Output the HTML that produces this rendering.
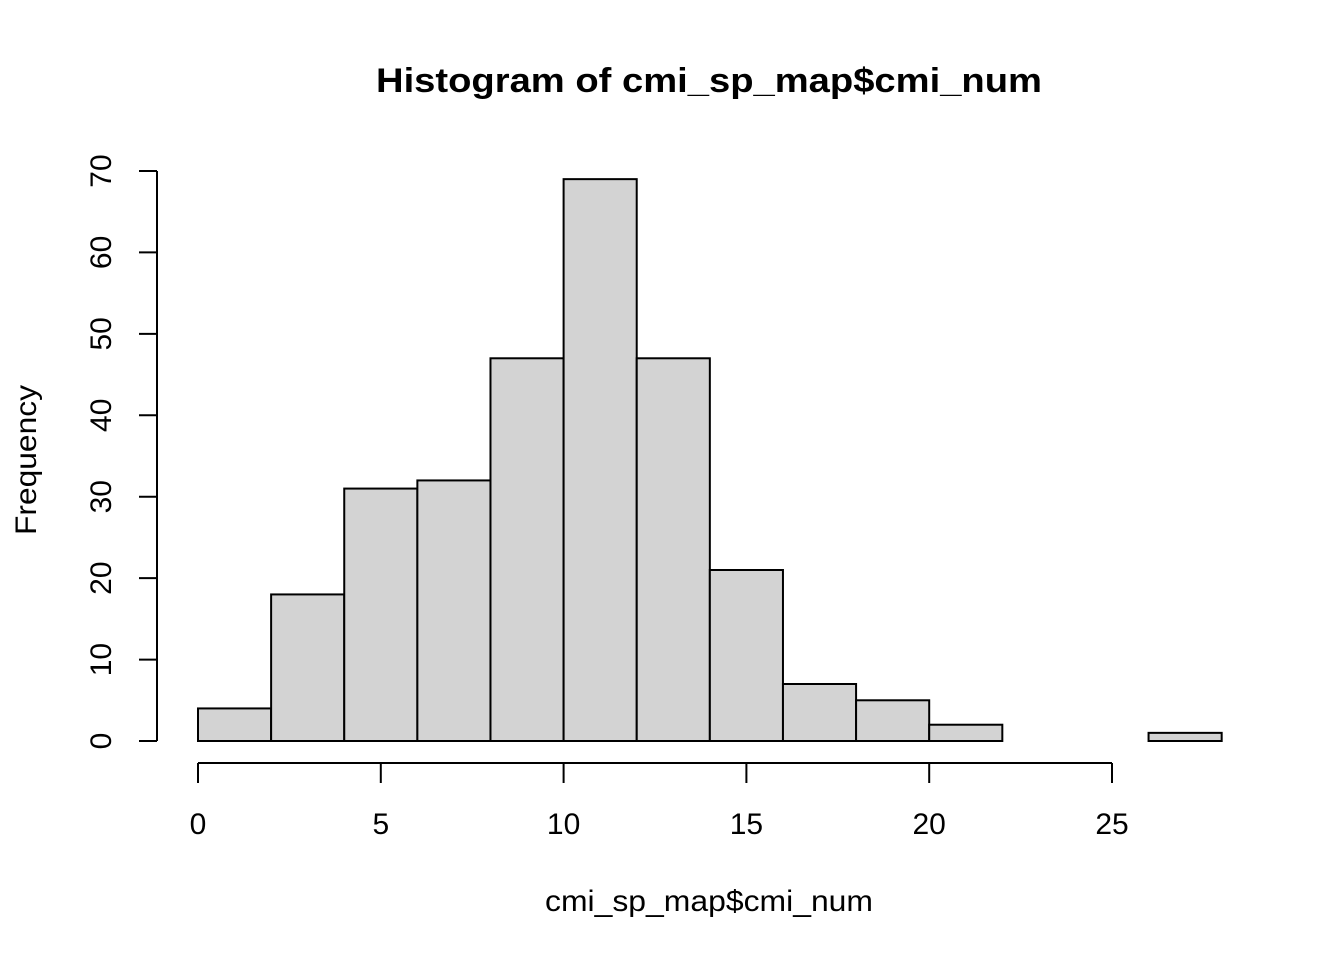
<!DOCTYPE html>
<html><head><meta charset="utf-8"><style>
body{margin:0;background:#fff}
svg{display:block;font-family:"Liberation Sans",Arial,sans-serif}
</style></head><body>
<svg id="chart" width="1344" height="960">
<text x="709" y="92" text-anchor="middle" font-size="34" font-weight="bold" textLength="666" lengthAdjust="spacingAndGlyphs">Histogram of cmi_sp_map$cmi_num</text>
<text x="709" y="911" text-anchor="middle" font-size="30" textLength="328" lengthAdjust="spacingAndGlyphs">cmi_sp_map$cmi_num</text>
<text transform="translate(36,460) rotate(-90)" text-anchor="middle" font-size="30" textLength="150" lengthAdjust="spacingAndGlyphs">Frequency</text>
<g id="bars"></g><g id="xaxis"></g><g id="yaxis"></g>
</svg>
<script>
const binStarts=[0,2,4,6,8,10,12,14,16,18,20,22,24,26];
const counts=[4,18,31,32,47,69,47,21,7,5,2,0,0,1];
const binWidth=2;
const xTicks=[0,5,10,15,20,25];
const yTicks=[0,10,20,30,40,50,60,70];
const NS="http://www.w3.org/2000/svg";
const xs=v=>198+v*(1112-198)/25;
const ys=v=>741-v*(741-171)/70;
function mk(tag,attrs,parent){const e=document.createElementNS(NS,tag);for(const k in attrs)e.setAttribute(k,attrs[k]);parent.appendChild(e);return e;}
const bars=document.getElementById('bars');
binStarts.forEach((b,i)=>{
  const r=mk('rect',{x:xs(b),y:ys(counts[i]),width:xs(b+binWidth)-xs(b),height:ys(0)-ys(counts[i]),fill:'#d3d3d3',stroke:'#000','stroke-width':2},bars);
  
  
});
const xa=document.getElementById('xaxis');
const xl=mk('line',{x1:xs(xTicks[0]),x2:xs(xTicks[xTicks.length-1]),y1:763,y2:763,stroke:'#000','stroke-width':2},xa);


xTicks.forEach(t=>{
  mk('line',{x1:xs(t),x2:xs(t),y1:763,y2:783,stroke:'#000','stroke-width':2},xa);
  const tx=mk('text',{x:xs(t),y:834,'text-anchor':'middle','font-size':30},xa);
  tx.textContent=t;
  
  
});
const ya=document.getElementById('yaxis');
const yl=mk('line',{x1:157,x2:157,y1:ys(yTicks[0]),y2:ys(yTicks[yTicks.length-1]),stroke:'#000','stroke-width':2},ya);


yTicks.forEach(t=>{
  mk('line',{x1:139,x2:157,y1:ys(t),y2:ys(t),stroke:'#000','stroke-width':2},ya);
  const tx=mk('text',{transform:'translate(111,'+ys(t)+') rotate(-90)','text-anchor':'middle','font-size':30},ya);
  tx.textContent=t;
  
  
});
</script>
</body></html>
